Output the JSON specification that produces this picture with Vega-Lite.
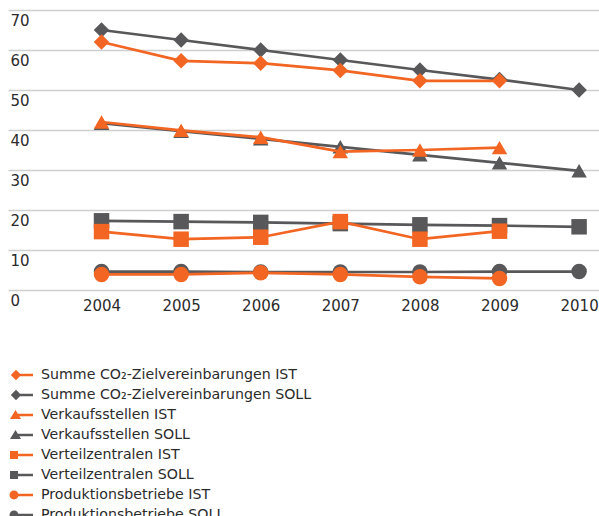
{
  "$schema": "https://vega.github.io/schema/vega-lite/v6.json",
  "width": 591,
  "height": 280,
  "padding": {"left": 8, "top": 10, "right": 0, "bottom": 226},
  "autosize": {"type": "none"},
  "background": "white",
  "config": {
    "view": {"stroke": null},
    "font": "DejaVu Sans",
    "axis": {"labelFont": "DejaVu Sans", "labelColor": "#2b2b2b"},
    "legend": {"labelFont": "DejaVu Sans", "labelColor": "#2b2b2b"}
  },
  "data": {
    "values": [
      {"serie": "Summe CO₂-Zielvereinbarungen IST", "typ": "IST", "jahr": 2004, "wert": 62},
      {"serie": "Summe CO₂-Zielvereinbarungen IST", "typ": "IST", "jahr": 2005, "wert": 57.3},
      {"serie": "Summe CO₂-Zielvereinbarungen IST", "typ": "IST", "jahr": 2006, "wert": 56.7},
      {"serie": "Summe CO₂-Zielvereinbarungen IST", "typ": "IST", "jahr": 2007, "wert": 54.9},
      {"serie": "Summe CO₂-Zielvereinbarungen IST", "typ": "IST", "jahr": 2008, "wert": 52.3},
      {"serie": "Summe CO₂-Zielvereinbarungen IST", "typ": "IST", "jahr": 2009, "wert": 52.3},
      {"serie": "Summe CO₂-Zielvereinbarungen SOLL", "typ": "SOLL", "jahr": 2004, "wert": 65},
      {"serie": "Summe CO₂-Zielvereinbarungen SOLL", "typ": "SOLL", "jahr": 2005, "wert": 62.5},
      {"serie": "Summe CO₂-Zielvereinbarungen SOLL", "typ": "SOLL", "jahr": 2006, "wert": 60},
      {"serie": "Summe CO₂-Zielvereinbarungen SOLL", "typ": "SOLL", "jahr": 2007, "wert": 57.5},
      {"serie": "Summe CO₂-Zielvereinbarungen SOLL", "typ": "SOLL", "jahr": 2008, "wert": 55},
      {"serie": "Summe CO₂-Zielvereinbarungen SOLL", "typ": "SOLL", "jahr": 2009, "wert": 52.6},
      {"serie": "Summe CO₂-Zielvereinbarungen SOLL", "typ": "SOLL", "jahr": 2010, "wert": 50},
      {"serie": "Verkaufsstellen IST", "typ": "IST", "jahr": 2004, "wert": 42},
      {"serie": "Verkaufsstellen IST", "typ": "IST", "jahr": 2005, "wert": 39.9},
      {"serie": "Verkaufsstellen IST", "typ": "IST", "jahr": 2006, "wert": 38.2},
      {"serie": "Verkaufsstellen IST", "typ": "IST", "jahr": 2007, "wert": 34.6},
      {"serie": "Verkaufsstellen IST", "typ": "IST", "jahr": 2008, "wert": 35},
      {"serie": "Verkaufsstellen IST", "typ": "IST", "jahr": 2009, "wert": 35.6},
      {"serie": "Verkaufsstellen SOLL", "typ": "SOLL", "jahr": 2004, "wert": 41.7},
      {"serie": "Verkaufsstellen SOLL", "typ": "SOLL", "jahr": 2005, "wert": 39.7},
      {"serie": "Verkaufsstellen SOLL", "typ": "SOLL", "jahr": 2006, "wert": 37.8},
      {"serie": "Verkaufsstellen SOLL", "typ": "SOLL", "jahr": 2007, "wert": 35.8},
      {"serie": "Verkaufsstellen SOLL", "typ": "SOLL", "jahr": 2008, "wert": 33.8},
      {"serie": "Verkaufsstellen SOLL", "typ": "SOLL", "jahr": 2009, "wert": 31.8},
      {"serie": "Verkaufsstellen SOLL", "typ": "SOLL", "jahr": 2010, "wert": 29.8},
      {"serie": "Verteilzentralen IST", "typ": "IST", "jahr": 2004, "wert": 14.6},
      {"serie": "Verteilzentralen IST", "typ": "IST", "jahr": 2005, "wert": 12.7},
      {"serie": "Verteilzentralen IST", "typ": "IST", "jahr": 2006, "wert": 13.2},
      {"serie": "Verteilzentralen IST", "typ": "IST", "jahr": 2007, "wert": 17.1},
      {"serie": "Verteilzentralen IST", "typ": "IST", "jahr": 2008, "wert": 12.7},
      {"serie": "Verteilzentralen IST", "typ": "IST", "jahr": 2009, "wert": 14.7},
      {"serie": "Verteilzentralen SOLL", "typ": "SOLL", "jahr": 2004, "wert": 17.3},
      {"serie": "Verteilzentralen SOLL", "typ": "SOLL", "jahr": 2005, "wert": 17.1},
      {"serie": "Verteilzentralen SOLL", "typ": "SOLL", "jahr": 2006, "wert": 16.9},
      {"serie": "Verteilzentralen SOLL", "typ": "SOLL", "jahr": 2007, "wert": 16.6},
      {"serie": "Verteilzentralen SOLL", "typ": "SOLL", "jahr": 2008, "wert": 16.3},
      {"serie": "Verteilzentralen SOLL", "typ": "SOLL", "jahr": 2009, "wert": 16.1},
      {"serie": "Verteilzentralen SOLL", "typ": "SOLL", "jahr": 2010, "wert": 15.8},
      {"serie": "Produktionsbetriebe IST", "typ": "IST", "jahr": 2004, "wert": 3.9},
      {"serie": "Produktionsbetriebe IST", "typ": "IST", "jahr": 2005, "wert": 3.9},
      {"serie": "Produktionsbetriebe IST", "typ": "IST", "jahr": 2006, "wert": 4.3},
      {"serie": "Produktionsbetriebe IST", "typ": "IST", "jahr": 2007, "wert": 3.9},
      {"serie": "Produktionsbetriebe IST", "typ": "IST", "jahr": 2008, "wert": 3.3},
      {"serie": "Produktionsbetriebe IST", "typ": "IST", "jahr": 2009, "wert": 2.9},
      {"serie": "Produktionsbetriebe SOLL", "typ": "SOLL", "jahr": 2004, "wert": 4.6},
      {"serie": "Produktionsbetriebe SOLL", "typ": "SOLL", "jahr": 2005, "wert": 4.6},
      {"serie": "Produktionsbetriebe SOLL", "typ": "SOLL", "jahr": 2006, "wert": 4.5},
      {"serie": "Produktionsbetriebe SOLL", "typ": "SOLL", "jahr": 2007, "wert": 4.5},
      {"serie": "Produktionsbetriebe SOLL", "typ": "SOLL", "jahr": 2008, "wert": 4.5},
      {"serie": "Produktionsbetriebe SOLL", "typ": "SOLL", "jahr": 2009, "wert": 4.6},
      {"serie": "Produktionsbetriebe SOLL", "typ": "SOLL", "jahr": 2010, "wert": 4.6}
    ]
  },
  "encoding": {
    "x": {
      "field": "jahr", "type": "quantitative",
      "scale": {"domain": [2002.825, 2010.25], "nice": false, "zero": false},
      "axis": {
        "title": null, "values": [2004, 2005, 2006, 2007, 2008, 2009, 2010], "format": "d",
        "domain": false, "ticks": false, "tickSize": 0, "grid": false,
        "labelFontSize": 15, "labelPadding": 8, "labelBaseline": "top"
      }
    },
    "y": {
      "field": "wert", "type": "quantitative",
      "scale": {"domain": [0, 70], "nice": false},
      "axis": {
        "title": null, "values": [0, 10, 20, 30, 40, 50, 60, 70],
        "domain": false, "ticks": false, "tickSize": 0,
        "grid": true, "gridColor": "#cfcfcf", "gridWidth": 1.5,
        "labelAlign": "left", "labelBaseline": "top", "labelPadding": -2, "labelOffset": 3,
        "labelFontSize": 15
      }
    },
    "color": {
      "field": "serie", "type": "nominal",
      "scale": {
        "domain": ["Summe CO₂-Zielvereinbarungen IST", "Summe CO₂-Zielvereinbarungen SOLL", "Verkaufsstellen IST", "Verkaufsstellen SOLL", "Verteilzentralen IST", "Verteilzentralen SOLL", "Produktionsbetriebe IST", "Produktionsbetriebe SOLL"],
        "range": ["#f26522", "#58585a", "#f26522", "#58585a", "#f26522", "#58585a", "#f26522", "#58585a"]
      },
      "legend": null
    }
  },
  "layer": [
    {
      "transform": [{"filter": "datum.typ == 'SOLL'"}],
      "mark": {"type": "line", "strokeWidth": 2.7},
      "encoding": {"detail": {"field": "serie"}}
    },
    {
      "transform": [{"filter": "datum.typ == 'SOLL'"}],
      "mark": {"type": "point", "filled": true, "opacity": 1},
      "encoding": {
        "shape": {
          "field": "serie", "type": "nominal", "legend": null,
          "scale": {
            "domain": ["Summe CO₂-Zielvereinbarungen IST", "Summe CO₂-Zielvereinbarungen SOLL", "Verkaufsstellen IST", "Verkaufsstellen SOLL", "Verteilzentralen IST", "Verteilzentralen SOLL", "Produktionsbetriebe IST", "Produktionsbetriebe SOLL"],
            "range": ["diamond", "diamond", "triangle-up", "triangle-up", "square", "square", "circle", "circle"]
          }
        },
        "size": {
          "field": "serie", "type": "nominal", "legend": null,
          "scale": {
            "domain": ["Summe CO₂-Zielvereinbarungen IST", "Summe CO₂-Zielvereinbarungen SOLL", "Verkaufsstellen IST", "Verkaufsstellen SOLL", "Verteilzentralen IST", "Verteilzentralen SOLL", "Produktionsbetriebe IST", "Produktionsbetriebe SOLL"],
            "range": [240, 240, 150, 150, 140, 140, 125, 125]
          }
        }
      }
    },
    {
      "transform": [{"filter": "datum.typ == 'IST'"}],
      "mark": {"type": "line", "strokeWidth": 2.7},
      "encoding": {"detail": {"field": "serie"}}
    },
    {
      "transform": [{"filter": "datum.typ == 'IST'"}],
      "mark": {"type": "point", "filled": true, "opacity": 1},
      "encoding": {
        "shape": {
          "field": "serie", "type": "nominal", "legend": null,
          "scale": {
            "domain": ["Summe CO₂-Zielvereinbarungen IST", "Summe CO₂-Zielvereinbarungen SOLL", "Verkaufsstellen IST", "Verkaufsstellen SOLL", "Verteilzentralen IST", "Verteilzentralen SOLL", "Produktionsbetriebe IST", "Produktionsbetriebe SOLL"],
            "range": ["diamond", "diamond", "triangle-up", "triangle-up", "square", "square", "circle", "circle"]
          }
        },
        "size": {
          "field": "serie", "type": "nominal", "legend": null,
          "scale": {
            "domain": ["Summe CO₂-Zielvereinbarungen IST", "Summe CO₂-Zielvereinbarungen SOLL", "Verkaufsstellen IST", "Verkaufsstellen SOLL", "Verteilzentralen IST", "Verteilzentralen SOLL", "Produktionsbetriebe IST", "Produktionsbetriebe SOLL"],
            "range": [240, 240, 150, 150, 140, 140, 125, 125]
          }
        }
      }
    },
    {
      "layer": [
        {
          "mark": {"type": "point", "filled": true, "opacity": 0, "size": 256},
          "encoding": {
            "shape": {
              "field": "serie", "type": "nominal",
              "legend": {
                "orient": "none", "legendX": 6, "legendY": 357,
                "title": null, "labelFontSize": 14.2, "labelOffset": 11,
                "rowPadding": 4, "symbolSize": 256, "symbolStrokeWidth": 0,
                "symbolOpacity": 1, "symbolFillColor": "#58585a", "labelLimit": 500,
                "encode": {"symbols": {"update": {
                  "opacity": {"value": 1},
                  "fill": {"scale": "color", "field": "value"}
                }}}
              },
              "scale": {
                "domain": ["Summe CO₂-Zielvereinbarungen IST", "Summe CO₂-Zielvereinbarungen SOLL", "Verkaufsstellen IST", "Verkaufsstellen SOLL", "Verteilzentralen IST", "Verteilzentralen SOLL", "Produktionsbetriebe IST", "Produktionsbetriebe SOLL"],
                "range": [
                  "M-1.4,0L-0.75,-0.65L-0.1,0L-0.75,0.65Z M-0.75,-0.15L1.375,-0.15L1.375,0.15L-0.75,0.15Z",
                  "M-1.4,0L-0.75,-0.65L-0.1,0L-0.75,0.65Z M-0.75,-0.15L1.375,-0.15L1.375,0.15L-0.75,0.15Z",
                  "M-0.81,-0.62L-0.12,0.5L-1.5,0.5Z M-0.81,-0.15L1.375,-0.15L1.375,0.15L-0.81,0.15Z",
                  "M-0.81,-0.62L-0.12,0.5L-1.5,0.5Z M-0.81,-0.15L1.375,-0.15L1.375,0.15L-0.81,0.15Z",
                  "M-1.5,-0.5L-0.5,-0.5L-0.5,0.5L-1.5,0.5Z M-1,-0.15L1.375,-0.15L1.375,0.15L-1,0.15Z",
                  "M-1.5,-0.5L-0.5,-0.5L-0.5,0.5L-1.5,0.5Z M-1,-0.15L1.375,-0.15L1.375,0.15L-1,0.15Z",
                  "M-1.56,0A0.56,0.56,0,1,1,-0.44,0A0.56,0.56,0,1,1,-1.56,0Z M-1,-0.15L1.375,-0.15L1.375,0.15L-1,0.15Z",
                  "M-1.56,0A0.56,0.56,0,1,1,-0.44,0A0.56,0.56,0,1,1,-1.56,0Z M-1,-0.15L1.375,-0.15L1.375,0.15L-1,0.15Z"
                ]
              }
            }
          }
        }
      ]
    }
  ],
  "resolve": {"scale": {"shape": "independent", "size": "independent"}, "legend": {"shape": "independent"}}
}
